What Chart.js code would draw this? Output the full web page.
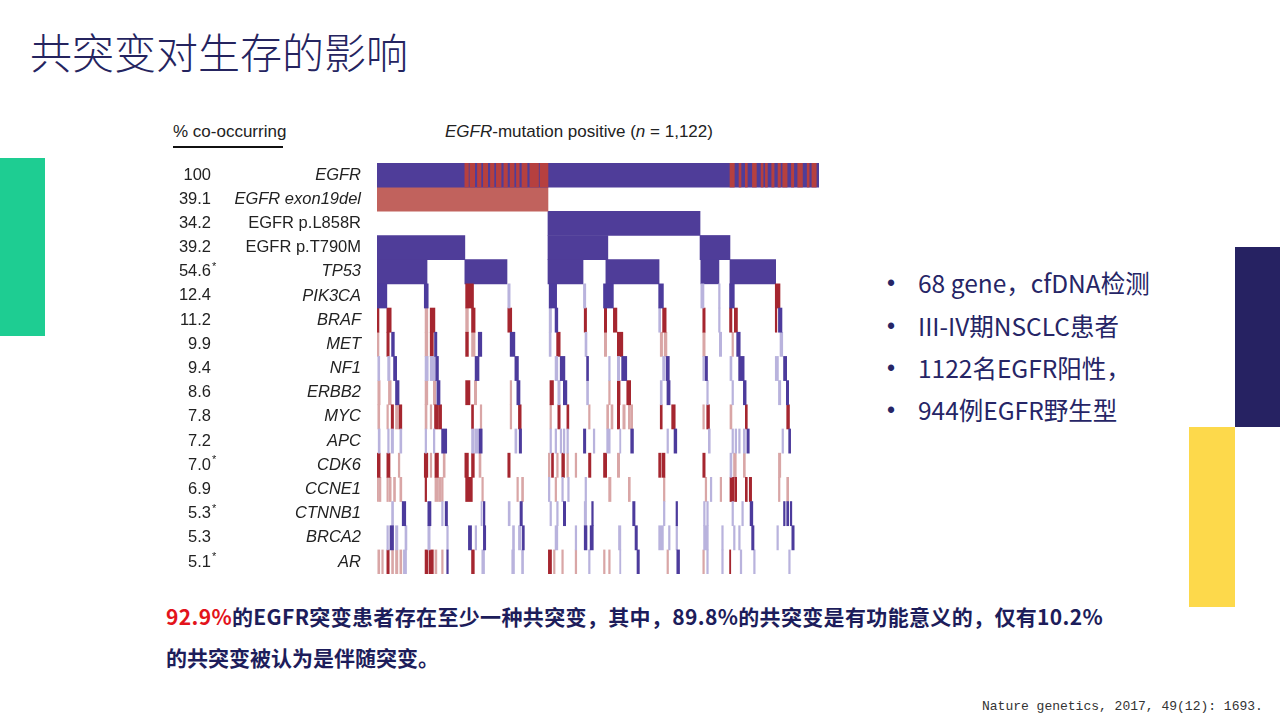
<!DOCTYPE html>
<html lang="zh">
<head>
<meta charset="utf-8">
<title>共突变对生存的影响</title>
<script src="https://cdn.jsdelivr.net/npm/chart.js@4.4.0/dist/chart.umd.min.js"></script>
<style>
  html, body { margin: 0; padding: 0; background: #fff; }
  body { width: 1280px; height: 720px; position: relative; overflow: hidden; font-family: 'Noto Sans CJK SC', sans-serif; }
  .abs { position: absolute; white-space: nowrap; }
  #title { left: 30px; top: 23px; font-size: 42px; line-height: 56px; color: #25245f; font-weight: 300; }
  .deco { position: absolute; }
  .hdr { font-family: 'Liberation Sans', Arial, sans-serif; font-size: 17px; color: #222; line-height: 20px; }
  .bullet { left: 887px; font-size: 24.5px; line-height: 42px; color: #262566; }
  .bullet span.dot { display: inline-block; width: 31px; font-family: 'Liberation Sans', Arial, sans-serif; font-size: 23px; vertical-align: top; }
  .note { left: 166px; font-size: 21px; line-height: 41px; font-weight: bold; color: #1d1d5b; }
  .note .hl { color: #e3131b; }
  #cite { left: 982px; top: 699px; font-family: 'Liberation Mono', monospace; font-size: 13px; color: #333; }
  #wrap { position: absolute; left: 140px; top: 145px; width: 690px; height: 447px; }
</style>
</head>
<body>
<div id="title" class="abs">共突变对生存的影响</div>

<div class="deco" style="left:0;top:158px;width:45px;height:178px;background:#1ecd92;"></div>
<div class="deco" style="left:1235px;top:247px;width:45px;height:180px;background:#262262;"></div>
<div class="deco" style="left:1189px;top:427px;width:46px;height:180px;background:#fdd94b;"></div>

<div class="abs hdr" style="left:173px;top:122px;">% co-occurring</div>
<div class="deco" style="left:173px;top:146px;width:110px;height:1.5px;background:#111;"></div>
<div class="abs hdr" style="left:445px;top:122px;"><i>EGFR</i>-mutation positive (<i>n</i> = 1,122)</div>

<div id="wrap"><canvas id="onco" width="690" height="447"></canvas></div>

<div class="abs bullet" style="top:262px;"><span class="dot">•</span>68 gene，cfDNA检测</div>
<div class="abs bullet" style="top:305px;"><span class="dot">•</span>III-IV期NSCLC患者</div>
<div class="abs bullet" style="top:347px;"><span class="dot">•</span>1122名EGFR阳性，</div>
<div class="abs bullet" style="top:389px;"><span class="dot">•</span>944例EGFR野生型</div>

<div class="abs note" style="top:596px;letter-spacing:0.35px;"><span class="hl">92.9%</span>的EGFR突变患者存在至少一种共突变，其中，89.8%的共突变是有功能意义的，仅有10.2%</div>
<div class="abs note" style="top:637px;">的共突变被认为是伴随突变。</div>

<div id="cite" class="abs">Nature genetics, 2017, 49(12): 1693.</div>

<script>
// 行（基因）与共突变比例
const genes = ['EGFR', 'EGFR exon19del', 'EGFR p.L858R', 'EGFR p.T790M', 'TP53', 'PIK3CA', 'BRAF', 'MET', 'NF1',
    'ERBB2', 'MYC', 'APC', 'CDK6', 'CCNE1', 'CTNNB1', 'BRCA2', 'AR'];
const coPct = ['100', '39.1', '34.2', '39.2', '54.6', '12.4', '11.2', '9.9', '9.4', '8.6', '7.8', '7.2', '7.0', '6.9', '5.3', '5.3', '5.1'];
const starred = [false, false, false, false, true, false, false, false, false, false, false, false, true, false, true, false, true];
const uprightRows = [2, 3];
const nSamples = 1122;

// 顶部几行：样本区间 [起, 止]
const egfrAll = [[0, 1122]];
const egfrRedStripes = [[223, 232], [236, 248], [255, 264], [270, 281], [288, 297], [303, 315], [322, 331], [338, 348],
    [354, 361], [368, 381], [388, 410], [414, 434],
    [896, 907], [919, 924], [935, 940], [953, 963], [975, 980], [986, 991], [1002, 1008], [1018, 1024],
    [1030, 1041], [1052, 1058], [1068, 1080], [1092, 1097], [1104, 1115]];
const exon19del = [[0, 434]];
const l858r = [[434, 820]];
const t790m = [[0, 223], [434, 586], [820, 896]];
const tp53 = [[0, 127], [223, 330], [434, 523], [581, 716], [822, 868], [896, 1012]];

// 其余基因：[起, 止, 类型]  B/b = 蓝（深/浅）, R/r = 红（深/浅）
const pik3ca = [[0, 25, 'B'], [120, 130, 'B'], [225, 245, 'R'], [332, 338, 'b'], [437, 456, 'B'], [524, 530, 'b'],
    [575, 600, 'B'], [715, 727, 'B'], [822, 830, 'b'], [867, 871, 'b'], [895, 907, 'B'], [1011, 1023, 'R']];
const braf = [[0, 5, 'R'], [25, 36, 'R'], [122, 129, 'r'], [135, 147, 'R'], [225, 232, 'r'], [240, 249, 'R'], [332, 342, 'R'],
    [437, 443, 'b'], [452, 459, 'B'], [526, 532, 'R'], [577, 583, 'R'], [600, 609, 'R'], [715, 720, 'b'], [725, 734, 'R'],
    [827, 833, 'R'], [867, 871, 'b'], [895, 901, 'R'], [907, 915, 'R'], [1011, 1015, 'R'], [1019, 1028, 'B']];
const met = [[0, 5, 'r'], [25, 31, 'R'], [37, 44, 'B'], [122, 129, 'r'], [135, 143, 'R'], [146, 152, 'B'], [225, 232, 'R'],
    [240, 249, 'r'], [257, 266, 'B'], [338, 350, 'B'], [437, 442, 'b'], [456, 465, 'R'], [528, 533, 'b'], [577, 583, 'r'],
    [610, 624, 'R'], [719, 725, 'r'], [729, 736, 'r'], [827, 833, 'r'], [869, 875, 'b'], [901, 905, 'r'], [913, 922, 'B'],
    [1023, 1030, 'b']];
const nf1 = [[2, 7, 'b'], [27, 33, 'b'], [42, 50, 'B'], [122, 130, 'b'], [135, 147, 'b'], [149, 156, 'B'], [249, 259, 'B'],
    [350, 359, 'B'], [452, 459, 'b'], [465, 477, 'B'], [532, 537, 'B'], [588, 592, 'b'], [610, 616, 'b'], [621, 634, 'B'],
    [725, 731, 'b'], [734, 742, 'B'], [827, 831, 'b'], [833, 839, 'B'], [896, 901, 'b'], [918, 932, 'B'], [1011, 1019, 'b'],
    [1032, 1040, 'B']];
const erbb2 = [[2, 8, 'r'], [29, 36, 'r'], [47, 56, 'B'], [122, 129, 'r'], [143, 149, 'r'], [152, 160, 'B'], [225, 236, 'R'],
    [247, 253, 'r'], [338, 342, 'r'], [355, 363, 'B'], [439, 448, 'R'], [459, 465, 'b'], [473, 482, 'B'], [532, 537, 'b'],
    [588, 592, 'r'], [610, 617, 'R'], [634, 644, 'R'], [719, 724, 'b'], [736, 744, 'B'], [837, 841, 'b'], [901, 905, 'b'],
    [930, 937, 'B'], [1019, 1025, 'b'], [1039, 1045, 'B']];
const myc = [[2, 7, 'r'], [25, 29, 'r'], [36, 42, 'R'], [47, 54, 'r'], [56, 63, 'R'], [122, 127, 'r'], [135, 139, 'r'],
    [146, 154, 'R'], [156, 164, 'R'], [240, 245, 'R'], [262, 266, 'r'], [338, 342, 'r'], [359, 366, 'R'], [439, 443, 'r'],
    [459, 465, 'R'], [482, 487, 'R'], [537, 541, 'r'], [583, 588, 'r'], [594, 599, 'r'], [610, 616, 'R'], [624, 630, 'r'],
    [638, 643, 'r'], [644, 649, 'r'], [719, 724, 'R'], [748, 757, 'R'], [827, 831, 'r'], [837, 844, 'R'], [896, 901, 'r'],
    [935, 940, 'R'], [1040, 1047, 'R']];
const apc = [[3, 8, 'b'], [27, 31, 'b'], [36, 42, 'b'], [58, 63, 'b'], [122, 126, 'b'], [143, 147, 'b'], [164, 177, 'B'],
    [240, 247, 'b'], [249, 257, 'b'], [259, 267, 'B'], [350, 355, 'b'], [361, 367, 'B'], [439, 443, 'b'], [452, 456, 'b'],
    [465, 469, 'b'], [473, 477, 'b'], [482, 486, 'b'], [524, 530, 'B'], [549, 553, 'b'], [583, 592, 'b'], [616, 619, 'b'],
    [644, 651, 'B'], [736, 740, 'b'], [754, 761, 'B'], [841, 846, 'b'], [901, 905, 'b'], [909, 913, 'b'], [918, 922, 'b'],
    [930, 935, 'b'], [939, 945, 'B'], [1028, 1032, 'b'], [1045, 1050, 'B']];
const cdk6 = [[0, 8, 'R'], [25, 33, 'R'], [54, 58, 'r'], [120, 129, 'R'], [135, 139, 'r'], [147, 156, 'R'], [168, 173, 'r'],
    [223, 232, 'R'], [240, 247, 'R'], [259, 264, 'r'], [332, 338, 'R'], [435, 439, 'r'], [443, 448, 'R'], [456, 460, 'r'],
    [469, 476, 'R'], [482, 486, 'r'], [503, 507, 'r'], [537, 543, 'R'], [575, 583, 'R'], [610, 616, 'r'], [715, 720, 'R'],
    [723, 731, 'R'], [827, 833, 'R'], [896, 901, 'b'], [905, 912, 'r'], [930, 935, 'r'], [1019, 1025, 'r']];
const ccne1 = [[0, 4, 'r'], [5, 10, 'r'], [25, 29, 'r'], [31, 36, 'r'], [42, 47, 'r'], [58, 63, 'r'], [122, 126, 'R'],
    [147, 154, 'r'], [156, 163, 'r'], [164, 168, 'r'], [225, 242, 'R'], [266, 270, 'r'], [355, 359, 'r'], [367, 372, 'r'],
    [435, 439, 'b'], [452, 456, 'r'], [469, 473, 'b'], [484, 488, 'b'], [528, 532, 'b'], [588, 594, 'r'], [638, 643, 'r'],
    [727, 731, 'r'], [833, 837, 'r'], [846, 850, 'b'], [871, 875, 'r'], [896, 907, 'R'], [909, 913, 'R'], [935, 940, 'R'],
    [945, 951, 'R'], [1019, 1023, 'r'], [1040, 1045, 'r']];
const ctnnb1 = [[37, 42, 'b'], [64, 73, 'B'], [129, 137, 'B'], [164, 168, 'b'], [173, 179, 'B'], [264, 267, 'b'],
    [270, 274, 'B'], [333, 338, 'b'], [363, 369, 'B'], [439, 443, 'b'], [456, 460, 'b'], [473, 479, 'B'], [526, 532, 'b'],
    [545, 549, 'B'], [649, 655, 'B'], [727, 731, 'b'], [759, 763, 'B'], [829, 833, 'b'], [837, 841, 'b'], [901, 905, 'b'],
    [926, 930, 'b'], [947, 954, 'B'], [1032, 1036, 'B'], [1040, 1045, 'B'], [1049, 1053, 'B']];
const brca2 = [[25, 29, 'b'], [33, 42, 'B'], [47, 53, 'b'], [71, 76, 'b'], [129, 135, 'b'], [177, 181, 'b'], [232, 240, 'B'],
    [249, 253, 'b'], [270, 276, 'B'], [344, 349, 'b'], [359, 366, 'b'], [369, 374, 'B'], [452, 459, 'b'], [503, 507, 'b'],
    [526, 533, 'B'], [541, 549, 'B'], [613, 619, 'b'], [655, 661, 'B'], [715, 727, 'b'], [740, 744, 'b'], [759, 763, 'b'],
    [829, 841, 'b'], [875, 879, 'b'], [905, 909, 'b'], [918, 922, 'b'], [951, 957, 'B'], [1015, 1019, 'b'], [1053, 1059, 'B']];
const ar = [[2, 7, 'r'], [12, 16, 'r'], [25, 31, 'R'], [37, 42, 'r'], [47, 53, 'r'], [58, 63, 'r'], [67, 75, 'b'],
    [122, 129, 'R'], [132, 143, 'R'], [147, 152, 'r'], [164, 168, 'r'], [177, 181, 'B'], [240, 247, 'R'], [266, 273, 'b'],
    [342, 349, 'b'], [367, 372, 'b'], [435, 443, 'R'], [448, 452, 'r'], [469, 473, 'r'], [503, 507, 'r'], [537, 541, 'b'],
    [575, 579, 'r'], [588, 592, 'r'], [616, 619, 'b'], [660, 666, 'B'], [736, 740, 'r'], [761, 768, 'B'], [827, 831, 'r'],
    [837, 841, 'b'], [875, 879, 'b'], [895, 898, 'R'], [922, 926, 'b'], [956, 960, 'b'], [1045, 1049, 'b']];

const lowerRows = { PIK3CA: pik3ca, BRAF: braf, MET: met, NF1: nf1, ERBB2: erbb2, MYC: myc, APC: apc, CDK6: cdk6,
    CCNE1: ccne1, CTNNB1: ctnnb1, BRCA2: brca2, AR: ar };

const purple = '#4f3d99';
const toneColors = { B: '#4c3b9c', b: '#b9b3dd', R: '#a5262f', r: '#d9a6a6' };

function bars(gene, list) {
    return list.map(s => ({ y: gene, x: [s[0], s[1]] }));
}

const common = { grouped: false, barPercentage: 1, categoryPercentage: 1, borderWidth: 0 };
const datasets = [
    Object.assign({ data: bars('EGFR', egfrRedStripes), backgroundColor: '#b6403f', order: 1 }, common),
    Object.assign({ data: bars('EGFR', egfrAll), backgroundColor: purple, order: 2 }, common),
    Object.assign({ data: bars('EGFR exon19del', exon19del), backgroundColor: '#c1625d', order: 2 }, common),
    Object.assign({
        data: bars('EGFR p.L858R', l858r).concat(bars('EGFR p.T790M', t790m), bars('TP53', tp53)),
        backgroundColor: purple, order: 2
    }, common)
];
Object.keys(toneColors).forEach(tone => {
    let data = [];
    Object.keys(lowerRows).forEach(g => {
        data = data.concat(bars(g, lowerRows[g].filter(s => s[2] === tone)));
    });
    datasets.push(Object.assign({ data: data, backgroundColor: toneColors[tone], order: 1 }, common));
});

// 左侧百分比列
const pctColumn = {
    id: 'pctColumn',
    afterDraw(chart) {
        const c = chart.ctx;
        const y = chart.scales.y;
        c.save();
        c.fillStyle = '#222';
        c.textBaseline = 'middle';
        coPct.forEach((p, i) => {
            const py = y.getPixelForValue(i);
            c.font = '16.5px "Liberation Sans", Arial, sans-serif';
            c.textAlign = 'right';
            c.fillText(p, 71, py);
            if (starred[i]) {
                c.textAlign = 'left';
                c.font = '11px "Liberation Sans", Arial, sans-serif';
                c.fillText('*', 72, py - 5);
            }
        });
        c.restore();
    }
};

new Chart(document.getElementById('onco').getContext('2d'), {
    type: 'bar',
    data: { labels: genes, datasets: datasets },
    options: {
        indexAxis: 'y',
        responsive: false,
        animation: false,
        layout: { padding: { left: 0, right: 11, top: 12, bottom: 8 } },
        plugins: { legend: { display: false }, tooltip: { enabled: false } },
        scales: {
            x: { type: 'linear', min: 0, max: nSamples, display: false },
            y: {
                type: 'category',
                grid: { display: false },
                border: { display: false },
                ticks: {
                    autoSkip: false,
                    padding: 8,
                    color: '#222',
                    font: ctx => ({
                        family: '"Liberation Sans", Arial, sans-serif',
                        size: 16.5,
                        style: uprightRows.includes(ctx.index) ? 'normal' : 'italic'
                    })
                },
                afterFit: s => { s.width = 237; }
            }
        }
    },
    plugins: [pctColumn]
});
</script>
</body>
</html>
